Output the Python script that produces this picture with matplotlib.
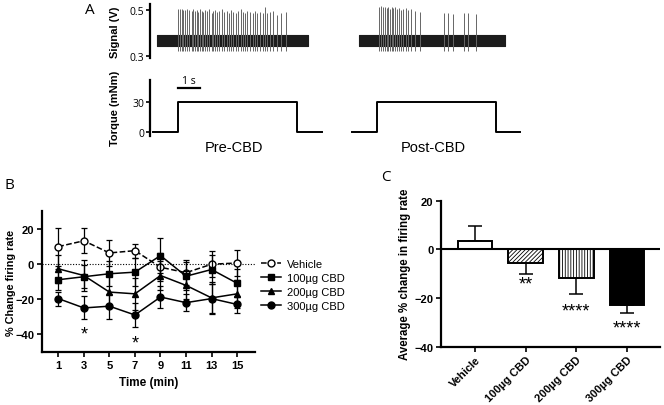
import matplotlib
matplotlib.use('Agg')
import matplotlib.pyplot as plt

plt.rcParams['font.family'] = ['Liberation Sans', 'DejaVu Sans']
plt.rcParams['hatch.linewidth'] = 0.6

# ---- panel A data (times in s) ----
pre_window = [0.16, 7.13]
post_window = [9.5, 16.2]
noise_band = [0.345, 0.39]
pre_spikes = [1.15, 1.23, 1.31, 1.38, 1.46, 1.54, 1.66, 1.77, 1.84, 1.92, 2.00, 2.07,
              2.15, 2.23, 2.30, 2.38, 2.49, 2.58, 2.69, 2.76, 2.84, 2.92, 3.04, 3.15,
              3.26, 3.38, 3.50, 3.58, 3.69, 3.81, 3.92, 4.03, 4.12, 4.23, 4.33, 4.46,
              4.58, 4.69, 4.79, 4.92, 5.04, 5.15, 5.25, 5.38, 5.53, 5.69, 5.87, 6.12]
pre_peaks = [0.505, 0.503, 0.505, 0.500, 0.498, 0.505, 0.500, 0.497, 0.503, 0.495, 0.500, 0.492,
             0.503, 0.497, 0.490, 0.500, 0.495, 0.503, 0.488, 0.497, 0.500, 0.492, 0.497, 0.503,
             0.490, 0.497, 0.485, 0.500, 0.492, 0.488, 0.497, 0.503, 0.490, 0.485, 0.495, 0.492,
             0.488, 0.497, 0.485, 0.490, 0.488, 0.515, 0.485, 0.490, 0.495, 0.480, 0.488, 0.490]
post_spikes = [10.40, 10.49, 10.59, 10.68, 10.77, 10.83, 10.91, 10.99, 11.06, 11.14, 11.23,
               11.32, 11.41, 11.52, 11.63, 11.75, 11.88, 12.06, 12.29, 13.41, 13.59, 13.82,
               14.33, 14.49, 14.90]
post_peaks = [0.515, 0.518, 0.512, 0.515, 0.510, 0.515, 0.505, 0.512, 0.508, 0.515, 0.505,
              0.510, 0.500, 0.505, 0.510, 0.500, 0.505, 0.495, 0.490, 0.485, 0.487, 0.483,
              0.487, 0.485, 0.482]
spike_trough = 0.322
torque_pre_t = [0, 1.15, 6.65, 7.8]
torque_post_t = [9.14, 10.3, 15.79, 16.9]
torque_levels = [0, 30, 0, 0]

# ---- panel B data ----
minutes = [1, 3, 5, 7, 9, 11, 13, 15]
vehicle = [9.8, 13.1, 6.2, 7.5, -1.9, -5.0, -0.2, 0.5]
vehicle_err = [10.8, 7.0, 7.5, 4.0, 8.0, 7.0, 7.5, 7.5]
cbd100 = [-9.0, -7.3, -5.6, -4.7, 4.7, -7.0, -3.2, -11.0]
cbd100_err = [6.0, 6.5, 7.0, 8.0, 10.0, 8.0, 8.0, 8.0]
cbd200 = [-2.8, -6.6, -16.0, -17.0, -6.6, -12.2, -19.3, -17.0]
cbd200_err = [8.0, 9.0, 9.0, 9.0, 8.0, 8.0, 9.0, 8.0]
cbd300 = [-19.7, -25.0, -24.0, -29.0, -18.8, -22.0, -19.7, -23.0]
cbd300_err = [4.0, 6.5, 7.0, 7.0, 6.0, 5.0, 8.0, 5.0]
series_names = ['Vehicle', '100µg CBD', '200µg CBD', '300µg CBD']
b_stars = [(3, -40, '*'), (7, -45, '*')]

# ---- panel C data ----
groups = ['Vehicle', '100µg CBD', '200µg CBD', '300µg CBD']
avg_change = [3.3, -5.5, -11.8, -22.8]
avg_err = [6.5, 4.8, 6.6, 3.4]
c_stars = ['', '**', '****', '****']
c_star_y = [0, -14.2, -25.2, -32.5]

W, H = 664, 406
fig = plt.figure(figsize=(W / 100, H / 100), dpi=100)


def box(left, top, right, bottom):
    return [left / W, 1 - bottom / H, (right - left) / W, (bottom - top) / H]


# ---------- A: signal ----------
axs = fig.add_axes(box(150, 5, 522, 59.3))
for win, spikes, peaks in [(pre_window, pre_spikes, pre_peaks),
                           (post_window, post_spikes, post_peaks)]:
    axs.fill_between(win, noise_band[0], noise_band[1], color='#1c1c1c', lw=0.8)
    axs.vlines(spikes, spike_trough, peaks, color='0.4', lw=0.7)
axs.set_xlim(-0.15, 17.0)
axs.set_ylim(0.29, 0.526)
axs.set_yticks([0.3, 0.5], ['0.3', '0.5'], fontfamily='Open Sans', fontsize=7.5)
axs.set_xticks([])
for s in ['top', 'right', 'bottom']:
    axs.spines[s].set_visible(False)
axs.spines['left'].set_linewidth(1.6)
axs.tick_params(axis='y', length=3, width=1.2, pad=1)
axs.set_ylabel('Signal (V)', fontsize=8, fontweight='bold')
axs.yaxis.set_label_coords(-0.08, 0.5)

# ---------- A: torque ----------
axt = fig.add_axes(box(150, 80.7, 522, 136.7))
axt.step(torque_pre_t, torque_levels, where='post', color='black', lw=1.4)
axt.step(torque_post_t, torque_levels, where='post', color='black', lw=1.4)
axt.plot([1.15, 2.15], [43, 43], color='black', lw=1.6)
axt.text(1.65, 45.5, '1 s', ha='center', va='bottom', fontsize=7.5,
         fontfamily='Open Sans', clip_on=False)
axt.set_xlim(-0.15, 17.0)
axt.set_ylim(-3.3, 51.6)
axt.set_yticks([0, 30], ['0', '30'], fontfamily='Open Sans', fontsize=7.5)
axt.set_xticks([])
for s in ['top', 'right', 'bottom']:
    axt.spines[s].set_visible(False)
axt.spines['left'].set_linewidth(1.6)
axt.tick_params(axis='y', length=3, width=1.2, pad=1)
axt.set_ylabel('Torque (mNm)', fontsize=8, fontweight='bold')
axt.yaxis.set_label_coords(-0.08, 0.5)
fig.text(234 / W, 1 - 148 / H, 'Pre-CBD', ha='center', va='center', fontsize=10.5)
fig.text(433 / W, 1 - 148 / H, 'Post-CBD', ha='center', va='center', fontsize=10.5)

# ---------- B ----------
axb = fig.add_axes(box(41.7, 212, 255, 353))
axb.axhline(0, color='black', lw=0.8, ls=(0, (1, 1.5)))
styles = [
    (vehicle, vehicle_err, 'o', 'white', '--'),
    (cbd100, cbd100_err, 's', 'black', '-'),
    (cbd200, cbd200_err, '^', 'black', '-'),
    (cbd300, cbd300_err, 'o', 'black', '-'),
]
handles = []
for (vals, errs, mk, fc, ls), name in zip(styles, series_names):
    axb.errorbar(minutes, vals, yerr=errs, fmt='none', ecolor='black',
                 elinewidth=0.9, capsize=2, capthick=0.9)
    h, = axb.plot(minutes, vals, color='black', ls=ls, lw=1.1, marker=mk,
                  ms=5 if mk != '^' else 4.5, mfc=fc, mec='black', mew=1.0, label=name)
    handles.append(h)
for x, y, s in b_stars:
    axb.text(x, y, s, ha='center', va='center', fontsize=13)
axb.set_xlim(-0.3, 16.4)
axb.set_ylim(-50, 30)
axb.set_xticks(minutes)
axb.set_yticks([-40, -20, 0, 20])
for s in ['top', 'right']:
    axb.spines[s].set_visible(False)
for s in ['left', 'bottom']:
    axb.spines[s].set_linewidth(1.6)
axb.tick_params(length=3.5, width=1.2, labelsize=8, pad=2)
for lab in axb.get_xticklabels() + axb.get_yticklabels():
    lab.set_fontweight('bold')
axb.set_xlabel('Time (min)', fontsize=8.5, fontweight='bold')
axb.set_ylabel('% Change firing rate', fontsize=7.8, fontweight='bold')
axb.xaxis.set_label_coords(0.5, -0.17)
axb.yaxis.set_label_coords(-0.12, 0.5)
axb.legend(handles=handles, loc='center left', bbox_to_anchor=(1.03, 0.475),
           frameon=False, fontsize=8, borderpad=0, borderaxespad=0,
           handlelength=1.8, handletextpad=0.5, labelspacing=0.35)

# ---------- C ----------
axc = fig.add_axes(box(441, 201.7, 660, 347.7))
xpos = list(range(len(groups)))
lower = [e if v < 0 else 0 for v, e in zip(avg_change, avg_err)]
upper = [e if v > 0 else 0 for v, e in zip(avg_change, avg_err)]
axc.errorbar(xpos, avg_change, yerr=[lower, upper], fmt='none', ecolor='black',
             elinewidth=1.1, capsize=5, capthick=1.1, zorder=1)
fills = ['white', 'white', 'white', 'black']
hatches = ['', '////////', '||||||', '']
for x, v, fc, ht in zip(xpos, avg_change, fills, hatches):
    axc.bar(x, v, width=0.68, color=fc, edgecolor='black', hatch=ht, lw=1.4, zorder=2)
axc.axhline(0, color='black', lw=1.5, zorder=3)
for x, y, s in zip(xpos, c_star_y, c_stars):
    if s:
        axc.text(x, y, s, ha='center', va='center', fontsize=13)
axc.set_xlim(-0.67, 3.65)
axc.set_ylim(-40, 20)
axc.set_yticks([-40, -20, 0, 20])
axc.set_xticks(xpos)
axc.set_xticklabels(groups, rotation=45, ha='right', rotation_mode='anchor')
for s in ['top', 'right']:
    axc.spines[s].set_visible(False)
for s in ['left', 'bottom']:
    axc.spines[s].set_linewidth(1.6)
axc.tick_params(length=3.5, width=1.2, labelsize=8, pad=2)
for lab in axc.get_xticklabels() + axc.get_yticklabels():
    lab.set_fontweight('bold')
axc.set_ylabel('Average % change in firing rate', fontsize=8.3, fontweight='bold')
axc.yaxis.set_label_coords(-0.135, 0.5)

# panel letters
fig.text(90 / W, 1 - 10 / H, 'A', fontsize=11, fontfamily='Open Sans', ha='center', va='center')
fig.text(9 / W, 1 - 186 / H, 'B', fontsize=11, fontfamily='Open Sans', ha='center', va='center')
fig.text(386 / W, 1 - 178 / H, 'C', fontsize=11, fontfamily='Open Sans', ha='center', va='center')

fig.savefig('out.png', dpi=100)
